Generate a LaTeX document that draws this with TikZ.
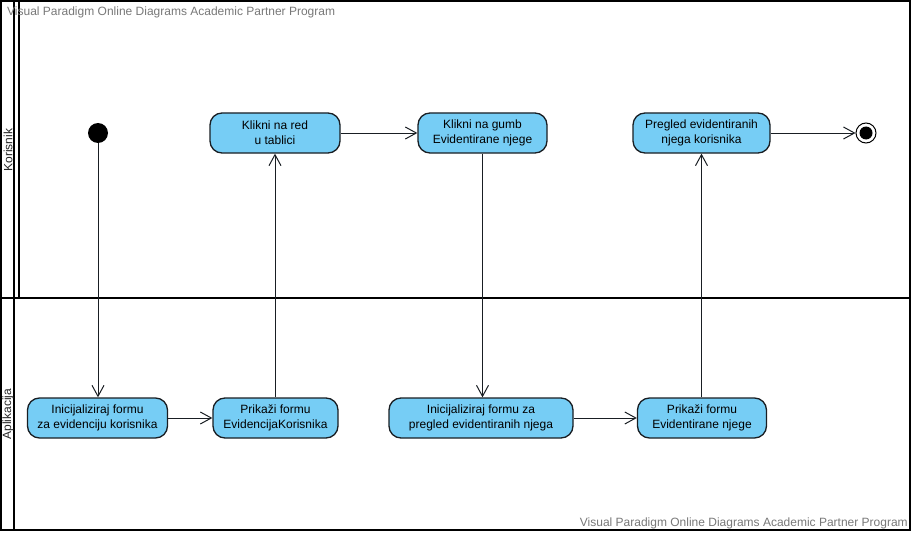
\documentclass[tikz,border=0pt]{standalone}
\usepackage{fontspec}
\setmainfont{Liberation Sans}
\usetikzlibrary{arrows.meta}
\definecolor{actfill}{RGB}{118,205,245}
\definecolor{actline}{RGB}{25,30,35}
\definecolor{wmark}{RGB}{120,120,120}
\begin{document}
\begin{tikzpicture}[x=1pt,y=-1pt,
  action/.style={draw=actline,fill=actfill,line width=1.3pt,rounded corners=12pt,
    align=center,inner sep=0pt,minimum height=40pt,font=\fontsize{12}{15}\selectfont},
  flow/.style={draw=actline,line width=1pt,-{Straight Barb[length=11pt,width=12pt,line width=1pt]}},
  frame/.style={line width=1.6pt,draw=black},
  lanelabel/.style={rotate=90,font=\fontsize{12}{14}\selectfont,text=black!85},
  watermark/.style={font=\fontsize{12}{14}\selectfont,text=wmark,inner sep=0pt}]
\useasboundingbox (0,0) rectangle (914,535);

% swimlane frame
\draw[frame] (1,1) rectangle (910,530);
\draw[frame] (0,298) -- (910,298);
\draw[frame] (14,1) -- (14,530);
\draw[frame] (19,1) -- (19,298);
\node[lanelabel] (laneK) at (8,150) {Korisnik};
\node[lanelabel] (laneA) at (8,414) {Aplikacija};

% watermarks
\node[watermark,anchor=west] (wmtop) at (7,12) {Visual Paradigm Online Diagrams Academic Partner Program};
\node[watermark,anchor=east] (wmbot) at (908,523) {Visual Paradigm Online Diagrams Academic Partner Program};

% initial and final states
\node[circle,fill=black,minimum size=20pt,inner sep=0pt] (start) at (98,133) {};
\node[circle,draw=black,line width=1pt,fill=white,minimum size=20pt,inner sep=0pt] (end) at (866,133) {};
\node[circle,fill=black,minimum size=13pt,inner sep=0pt] (endin) at (866,133) {};

% actions of the user
\node[action,minimum width=130pt] (red) at (275,133) {Klikni na red\\u tablici};
\node[action,minimum width=129pt] (gumb) at (482.5,133) {Klikni na gumb\\Evidentirane njege};
\node[action,minimum width=137pt] (pregled) at (701.5,133) {Pregled evidentiranih\\njega korisnika};

% actions of the application
\node[action,minimum width=140pt] (init1) at (97.5,418) {Inicijaliziraj formu\\za evidenciju korisnika};
\node[action,minimum width=125pt] (prik1) at (275.5,418) {Prikaži formu\\EvidencijaKorisnika};
\node[action,minimum width=184pt] (init2) at (481,418) {Inicijaliziraj formu za\\pregled evidentiranih njega};
\node[action,minimum width=129pt] (prik2) at (702,418) {Prikaži formu\\Evidentirane njege};

% control flows
\draw[flow] (start) -- (start |- init1.north);
\draw[flow] (init1) -- (prik1);
\draw[flow] (prik1.north -| red) -- (red);
\draw[flow] (red) -- (gumb);
\draw[flow] (gumb.south) -- (init2.north -| gumb.south);
\draw[flow] (init2) -- (prik2);
\draw[flow] (prik2.north -| pregled) -- (pregled);
\draw[flow] (pregled) -- (end);
\end{tikzpicture}
\end{document}
